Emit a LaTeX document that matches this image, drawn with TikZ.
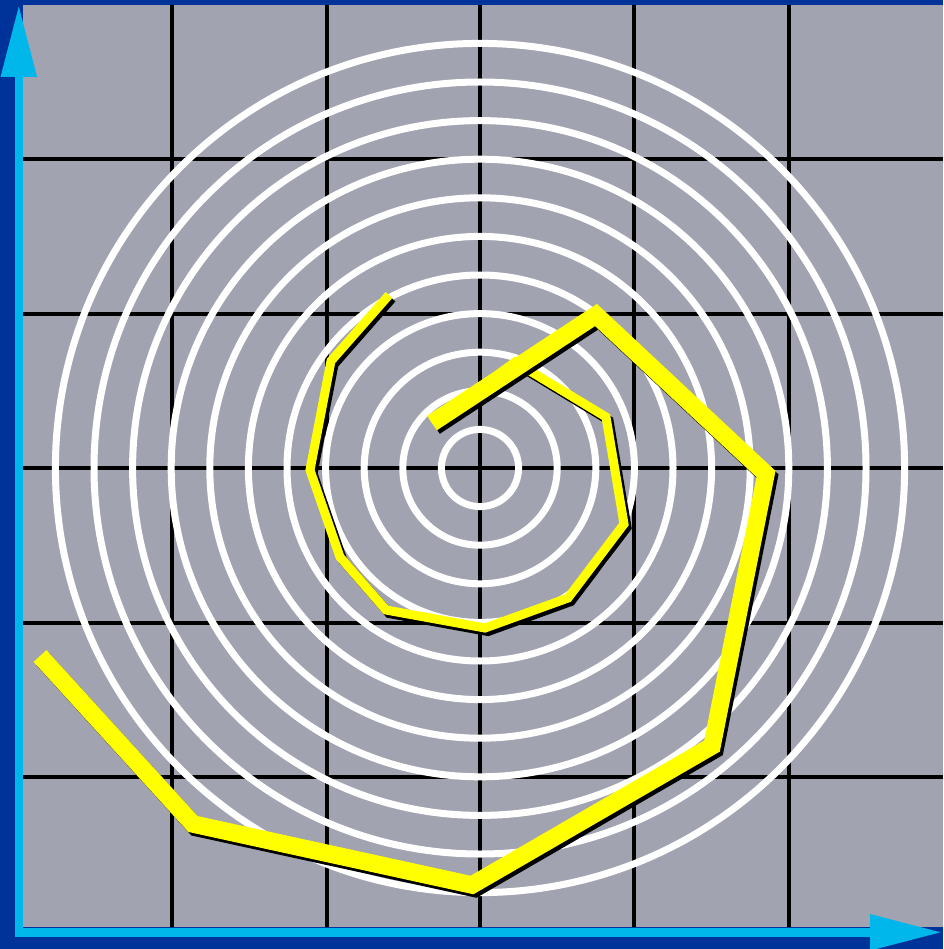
\documentclass[tikz,border=0pt]{standalone}
\usetikzlibrary{arrows.meta}

\definecolor{donkerblauw}{RGB}{0,51,153}
\definecolor{grijs}{RGB}{161,163,176}
\definecolor{cyaan}{RGB}{0,183,235}
\definecolor{geel}{RGB}{255,255,0}

\begin{document}
\begin{tikzpicture}[x=1pt, y=-1pt,
    raster/.style={black, line width=3.5pt},
    ring/.style={white, line width=7pt},
    dun/.style={line width=9pt, line join=miter},
    dik/.style={line width=17.5pt, line join=miter},
    as/.style={cyaan, line width=8.5pt, line cap=rect,
        -{Triangle[length=72pt, width=34pt]}}]
\useasboundingbox (0,0) rectangle (943,949);
\def\S{38.6pt}

% Achtergrond en kader
\fill[donkerblauw] (0,0) rectangle (943,949);
\fill[grijs] (23,5) rectangle (943,927);

% Rasterlijnen
\draw[raster] (172,5) -- (172,927);
\draw[raster] (327,5) -- (327,927);
\draw[raster] (480,5) -- (480,927);
\draw[raster] (634,5) -- (634,927);
\draw[raster] (789,5) -- (789,927);
\draw[raster] (23,159) -- (943,159);
\draw[raster] (23,314) -- (943,314);
\draw[raster] (23,468) -- (943,468);
\draw[raster] (23,623) -- (943,623);
\draw[raster] (23,777) -- (943,777);

% Concentrische ringen rond het midden
\coordinate (midden) at (480,468);
\draw[ring] (midden) circle[radius=\S]
    (midden) circle[radius=2*\S] (midden) circle[radius=3*\S]
    (midden) circle[radius=4*\S] (midden) circle[radius=5*\S]
    (midden) circle[radius=6*\S] (midden) circle[radius=7*\S]
    (midden) circle[radius=8*\S] (midden) circle[radius=9*\S]
    (midden) circle[radius=10*\S] (midden) circle[radius=11*\S];

% Spiraal: dun binnenstuk, met schaduw
\draw[dun, black, shift={(3,3.5)}]
    (389,295) -- (331,361) -- (310,470) -- (340,557) -- (386,610)
    -- (485,628) -- (568,598) -- (624,524) -- (606,417) -- (515,362)
    -- (432,423);
\draw[dun, geel]
    (389,295) -- (331,361) -- (310,470) -- (340,557) -- (386,610)
    -- (485,628) -- (568,598) -- (624,524) -- (606,417) -- (515,362)
    -- (432,423);

% Spiraal: dik buitenstuk, met schaduw
\draw[dik, black, shift={(3,3.5)}]
    (432,423) -- (596,315) -- (766,474) -- (712,746) -- (472,885)
    -- (193,824) -- (40,656);
\draw[dik, geel]
    (432,423) -- (596,315) -- (766,474) -- (712,746) -- (472,885)
    -- (193,824) -- (40,656);

% Assen
\coordinate (oorsprong) at (18.8,932.3);
\draw[as] (oorsprong) -- (18.8,5);
\draw[as] (oorsprong) -- (942,932.3);
\end{tikzpicture}
\end{document}
